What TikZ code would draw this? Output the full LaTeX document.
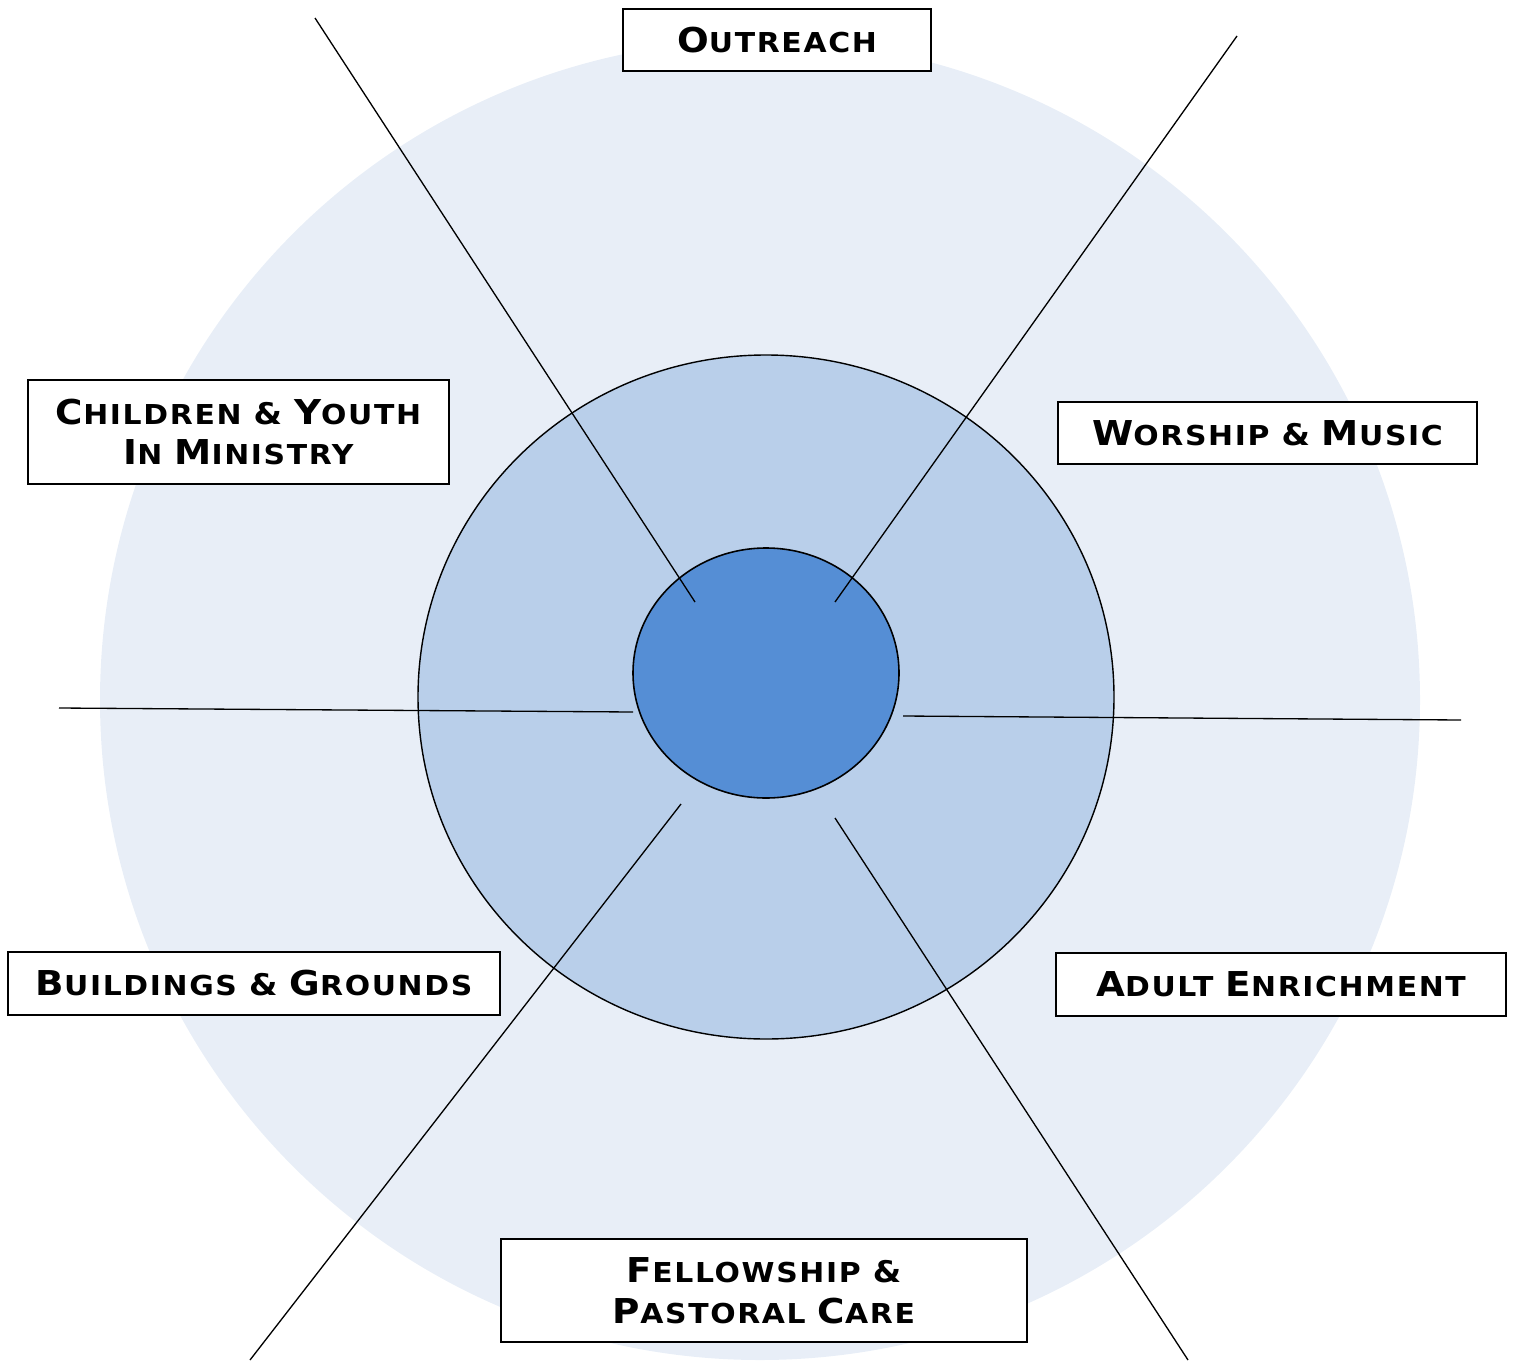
\documentclass[tikz,border=0pt]{standalone}
\usepackage{fontspec}
\newfontfamily\platefont[LetterSpace=6,FakeStretch=1.09]{DejaVu Sans}
\usetikzlibrary{positioning}
\definecolor{outerblue}{HTML}{E8EEF7}
\definecolor{midblue}{HTML}{B9CFEA}
\definecolor{coreblue}{HTML}{558ED5}
\newcommand{\capsword}[2]{{\fontsize{19.5}{23}\selectfont #1}{\fontsize{15.6}{23}\selectfont #2}}
\newcommand{\capsamp}{{\fontsize{17}{23}\selectfont\&}}
\tikzset{
	ministry/.style={draw=black,line width=0.8pt,fill=white,align=center,inner sep=0pt,
		font=\platefont\bfseries\fontsize{15.6}{23.3}\selectfont},
	spoke/.style={line width=0.75pt}
}
\begin{document}
\begin{tikzpicture}[x=0.02cm,y=-0.02cm]
	\useasboundingbox (0,0) rectangle (1514,1362);
	\clip (0,0) rectangle (1514,1362);

	% circles
	\fill [outerblue] (760,700) circle [radius=660];
	\draw [line width=0.8pt][fill=midblue] (766,697) ellipse [x radius=348, y radius=342];
	\draw [line width=0.9pt][fill=coreblue] (766,673) ellipse [x radius=133, y radius=125];

	% spokes
	\coordinate (nw out) at (315,18);   \coordinate (nw in) at (695,602);
	\coordinate (ne out) at (1237,36);  \coordinate (ne in) at (835,602);
	\coordinate (w out) at (59,708);    \coordinate (w in) at (633,712);
	\coordinate (e out) at (1461,720);  \coordinate (e in) at (903,716);
	\coordinate (sw out) at (250,1360); \coordinate (sw in) at (681,804);
	\coordinate (se out) at (1188,1360);\coordinate (se in) at (835,818);
	\foreach \s in {nw,ne,w,e,sw,se}
		\draw [spoke] (\s\space out) -- (\s\space in);

	% ministries
	\node [ministry, minimum width=6.16cm, minimum height=1.24cm] (outreach) at (777,40)
		{\capsword{O}{UTREACH}};
	\node [ministry, minimum width=8.42cm, minimum height=2.08cm] (children) at (238.5,432)
		{\capsword{C}{HILDREN} \capsamp{} \capsword{Y}{OUTH}\\ \capsword{I}{N} \capsword{M}{INISTRY}};
	\node [ministry, minimum width=8.38cm, minimum height=1.24cm] (worship) at (1267.5,433)
		{\capsword{W}{ORSHIP} \capsamp{} \capsword{M}{USIC}};
	\node [ministry, minimum width=9.84cm, minimum height=1.26cm] (buildings) at (254,983.5)
		{\capsword{B}{UILDINGS} \capsamp{} \capsword{G}{ROUNDS}};
	\node [ministry, minimum width=9cm, minimum height=1.26cm] (adult) at (1281,984.5)
		{\capsword{A}{DULT} \capsword{E}{NRICHMENT}};
	\node [ministry, minimum width=10.52cm, minimum height=2.06cm] (fellowship) at (764,1290.5)
		{\capsword{F}{ELLOWSHIP} \capsamp\\ \capsword{P}{ASTORAL} \capsword{C}{ARE}};
\end{tikzpicture}
\end{document}
